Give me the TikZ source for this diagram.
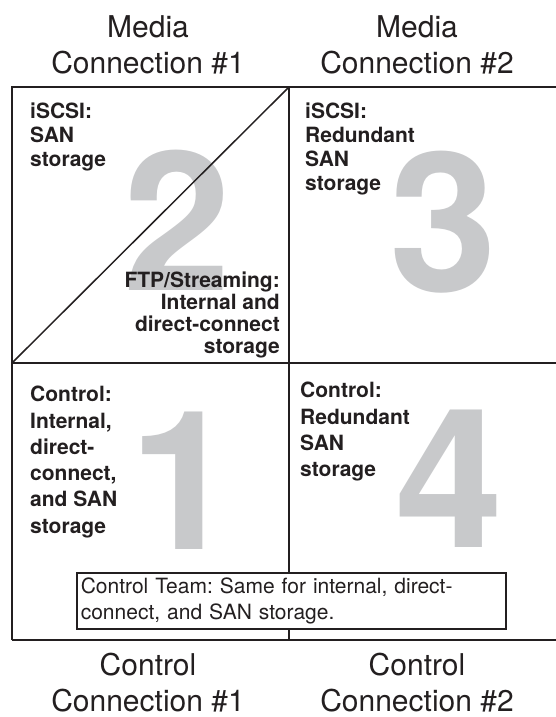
\documentclass[tikz,border=0pt]{standalone}
\usepackage{fontspec}
\setmainfont{TeX Gyre Heros}
\usetikzlibrary{positioning}
\definecolor{inkline}{RGB}{35,31,32}
\definecolor{bignum}{RGB}{200,201,203}
\frenchspacing

\begin{document}
\begin{tikzpicture}[x=1pt, y=-1pt,
    every node/.style={inner sep=0pt, text=inkline},
    conn/.style={font=\fontsize{30}{36}\selectfont, align=center, anchor=north},
    cell/.style={font=\fontsize{21}{24}\selectfont\bfseries, anchor=north west, align=left},
    digit/.style={font=\fontsize{194}{194}\selectfont\bfseries, text=bignum, anchor=base}]

    \useasboundingbox (0,0) rectangle (555,717);

    % --- Big quadrant numbers ---
    \node[digit] (numTwo) at (177,290) {2};
    \node[digit] (numThree) at (443,291) {3};
    \node[digit] (numOne) at (183,549) {1};
    \node[digit] (numFour) at (449.5,547) {4};

    % --- Grid ---
    \draw[inkline, line width=2pt] (12,640) -- (12,87) -- (556,87);
    \draw[inkline, line width=2pt] (12,363) -- (556,363);
    \draw[inkline, line width=2pt] (12,640) -- (556,640);
    \draw[inkline, line width=2pt] (289,87) -- (289,640);
    % split of the first media cell
    \draw[inkline, line width=1.5pt] (12,363) -- (289,87);

    % --- Connection labels ---
    \node[conn] (mediaOne) at (148,15.5) {Media\\Connection \#1};
    \node[conn] (mediaTwo) at (417,15.5) {Media\\Connection \#2};
    \node[conn] (controlOne) at (148,653) {Control\\Connection \#1};
    \node[conn] (controlTwo) at (417,653) {Control\\Connection \#2};

    % --- Media connection #1 ---
    \node[cell] (mediaSan) at (30,103) {iSCSI:\\SAN\\storage};
    \node[cell, anchor=north east, align=right, font=\fontsize{21}{22}\selectfont\bfseries] (mediaFtp) at (280,272) {FTP/Streaming:\\Internal and\\direct-connect\\storage};

    % --- Media connection #2 ---
    \node[cell] (mediaRed) at (305,103) {iSCSI:\\Redundant\\SAN\\storage};

    % --- Control connections ---
    \node[cell, font=\fontsize{21}{26.3}\selectfont\bfseries] (controlAll) at (30,386) {Control:\\Internal,\\direct-\\connect,\\and SAN\\storage};
    \node[cell, font=\fontsize{21}{26.3}\selectfont\bfseries] (controlRed) at (300,382) {Control:\\Redundant\\SAN\\storage};

    % Team note over the lower cells
    \node[draw=inkline, line width=1.6pt, fill=white, anchor=north west, minimum width=429pt, minimum height=56pt,
          inner xsep=4pt, text width=421pt, align=left, font=\fontsize{21}{26}\selectfont] (teamNote) at (76,572)
          {Control Team: Same for internal, direct-\\connect, and SAN storage.};

\end{tikzpicture}
\end{document}
